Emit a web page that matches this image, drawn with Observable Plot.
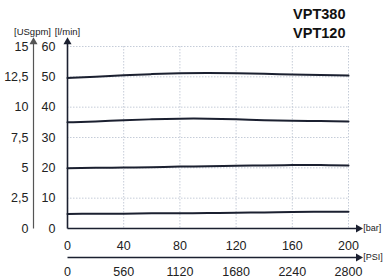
<!DOCTYPE html>
<html><head><meta charset="utf-8">
<script src="https://cdn.jsdelivr.net/npm/d3@7"></script>
<script src="https://cdn.jsdelivr.net/npm/@observablehq/plot@0.6"></script>
<style>body{margin:0;background:#fff} svg{display:block}</style>
</head><body><div id="chart"></div>
<script>
const pressureBar = [0,20,40,60,80,100,120,140,160,180,200];
const flow1 = [49.6,50.0,50.5,50.9,51.2,51.3,51.2,51.0,50.8,50.6,50.4];
const flow2 = [35.0,35.3,35.7,36.0,36.2,36.2,36.0,35.7,35.5,35.4,35.3];
const flow3 = [19.9,20.0,20.1,20.2,20.4,20.5,20.7,20.8,20.9,20.9,20.8];
const flow4 = [4.8,4.85,4.9,5.0,5.05,5.1,5.2,5.3,5.4,5.5,5.5];
const barTicks = [0,40,80,120,160,200];
const psiLabels = ["0","560","1120","1680","2240","2800"];
const lminTicks = [0,10,20,30,40,50,60];
const usgpmLabels = ["0","2,5","5","7,5","10","12,5","15"];
const titles = ["VPT380","VPT120"];
const gridY = [10,20,30,40,50,60];
const gridX = [40,80,120,160,200];

const series = [flow1, flow2, flow3, flow4];
const data = series.flatMap((s, i) => s.map((v, j) => ({series: i, bar: pressureBar[j], flow: v})));

const ink = "#1b2030";
const yTop = 61.5, xEnd = 207;
const font = "Liberation Sans, Arial, sans-serif";

const plot = Plot.plot({
  width: 385, height: 280,
  marginLeft: 67, marginRight: 37, marginTop: 46, marginBottom: 52,
  x: {domain: [0, 200], axis: null},
  y: {domain: [0, 60], axis: null},
  style: {fontFamily: font, fontSize: "12.5px", color: "#222", background: "#fff"},
  marks: [
    Plot.ruleY(gridY, {stroke: "#c5ccd8", strokeWidth: 1, strokeDasharray: "1.5,1.5"}),
    Plot.ruleX(gridX, {stroke: "#c5ccd8", strokeWidth: 1, strokeDasharray: "1.5,1.5"}),
    // axes lines
    Plot.link([0], {x1: 0, x2: 0, y1: 0, y2: yTop, stroke: ink, strokeWidth: 1.6}),
    Plot.link([0], {x1: 0, x2: 0, y1: 0, y2: yTop, stroke: "#555", strokeWidth: 1.2, dx: -34}),
    Plot.link([0], {x1: 0, x2: xEnd, y1: 0, y2: 0, stroke: ink, strokeWidth: 1.6}),
    Plot.link([0], {x1: 0, x2: xEnd, y1: 0, y2: 0, stroke: ink, strokeWidth: 1.6, dy: 29}),
    Plot.dot([0], {x: 0, y: yTop, symbol: "triangle", r: 3, fill: ink, stroke: null}),
    Plot.dot([0], {x: 0, y: yTop, symbol: "triangle", r: 3, fill: "#555", stroke: null, dx: -34}),
    Plot.dot([0], {x: xEnd, y: 0, symbol: "triangle", r: 3, fill: ink, stroke: null, rotate: 90}),
    Plot.dot([0], {x: xEnd, y: 0, symbol: "triangle", r: 3, fill: ink, stroke: null, rotate: 90, dy: 29}),
    // curves
    Plot.line(data, {x: "bar", y: "flow", z: "series", stroke: ink, strokeWidth: 2, curve: "natural"}),
    // tick labels
    Plot.text(lminTicks, {x: 0, y: d => d, text: d => String(d), textAnchor: "end", dx: -12, fontSize: 12.5}),
    Plot.text(lminTicks, {x: 0, y: d => d, text: (d, i) => usgpmLabels[i], textAnchor: "end", dx: -39, fontSize: 12.5}),
    Plot.text(barTicks, {x: d => d, y: 0, text: d => String(d), dy: 17, fontSize: 12.5}),
    Plot.text(barTicks, {x: d => d, y: 0, text: (d, i) => psiLabels[i], dy: 43, fontSize: 12.5}),
    Plot.text(["[bar]"], {x: xEnd, y: 0, text: d => d, textAnchor: "start", dx: 5, fontSize: 9}),
    Plot.text(["[PSI]"], {x: xEnd, y: 0, text: d => d, textAnchor: "start", dx: 5, dy: 29, fontSize: 9}),
    Plot.text(["[USgpm]"], {frameAnchor: "top-left", text: d => d, textAnchor: "middle", lineAnchor: "middle", dx: -35, dy: -15, fontSize: 9.5}),
    Plot.text(["[l/min]"], {frameAnchor: "top-left", text: d => d, textAnchor: "middle", lineAnchor: "middle", dx: 0, dy: -15, fontSize: 9.5}),
    Plot.text([titles[0]], {frameAnchor: "top-right", text: d => d, textAnchor: "end", lineAnchor: "middle", dx: -3, dy: -32, fontWeight: "bold", fontSize: 14.5, fill: "#111"}),
    Plot.text([titles[1]], {frameAnchor: "top-right", text: d => d, textAnchor: "end", lineAnchor: "middle", dx: -3, dy: -13, fontWeight: "bold", fontSize: 14.5, fill: "#111"})
  ]
});
document.getElementById("chart").appendChild(plot);
</script>
</body></html>
